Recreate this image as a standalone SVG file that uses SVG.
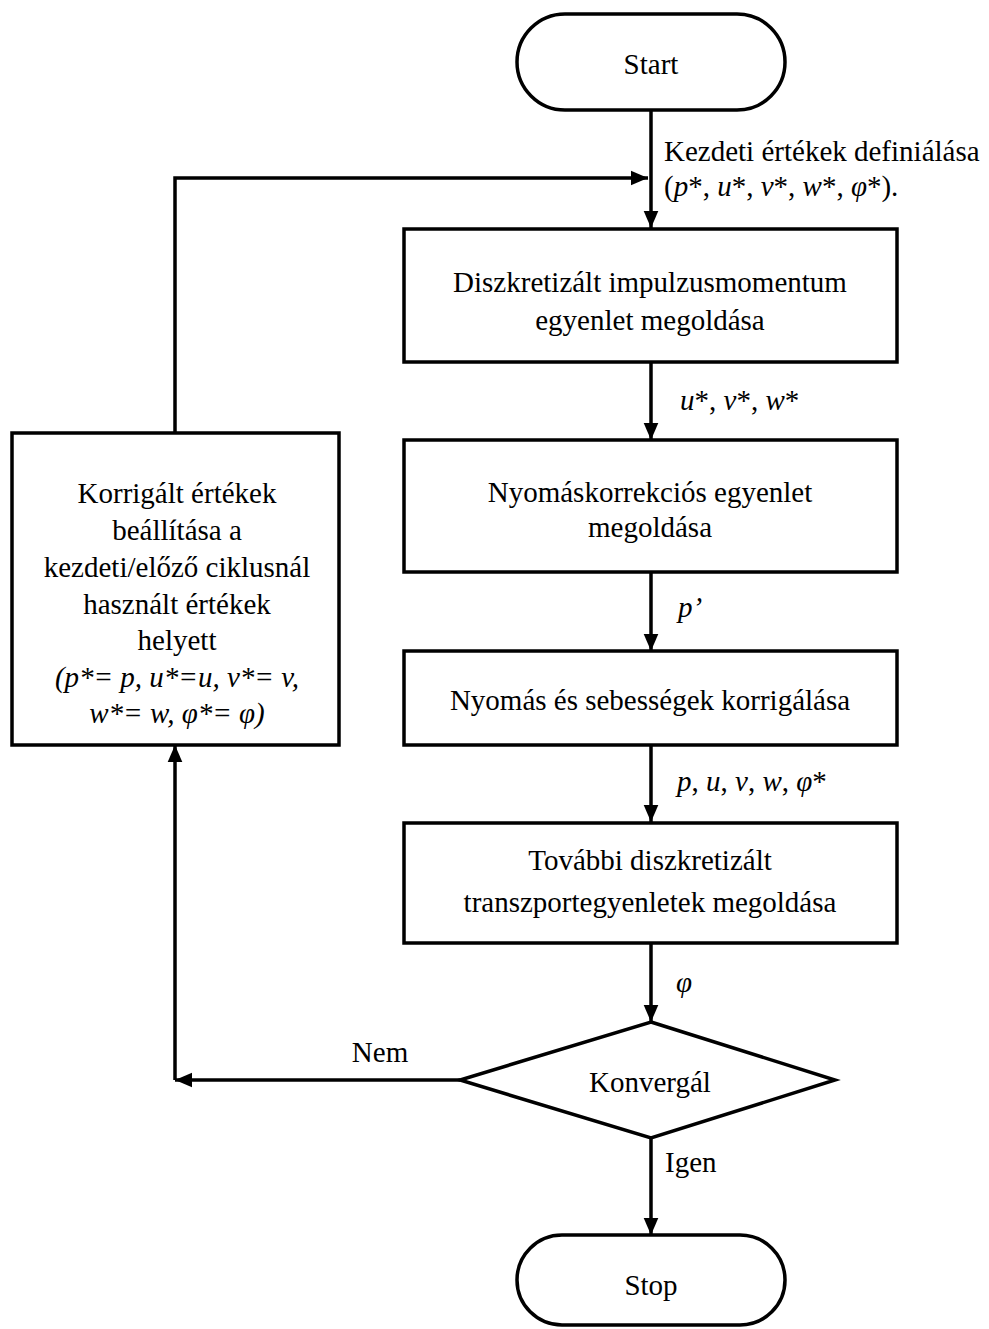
<svg xmlns="http://www.w3.org/2000/svg" width="989" height="1329" viewBox="0 0 989 1329">
<style>
.shape{fill:#fff;stroke:#000;stroke-width:3.5}
.line{fill:none;stroke:#000;stroke-width:3.5}
text{font-family:"Liberation Serif","Times New Roman",serif;font-size:29px;fill:#000}
.c{text-anchor:middle}
.i{font-style:italic}
</style>
<defs>
<marker id="ah" viewBox="0 0 10 10" refX="10" refY="5" markerWidth="17" markerHeight="17" markerUnits="userSpaceOnUse" orient="auto">
<path d="M0,0.7 L10,5 L0,9.3 Z" fill="#000"/>
</marker>
</defs>
<rect width="989" height="1329" fill="#fff"/>
<g id="connectors">
<line class="line" x1="651" y1="110" x2="651" y2="228" marker-end="url(#ah)"/>
<polyline class="line" points="175,433 175,178 648,178" marker-end="url(#ah)"/>
<line class="line" x1="651" y1="362" x2="651" y2="440" marker-end="url(#ah)"/>
<line class="line" x1="651" y1="572" x2="651" y2="651" marker-end="url(#ah)"/>
<line class="line" x1="651" y1="745" x2="651" y2="822" marker-end="url(#ah)"/>
<line class="line" x1="651" y1="943" x2="651" y2="1022" marker-end="url(#ah)"/>
<line class="line" x1="460" y1="1080" x2="175" y2="1080" marker-end="url(#ah)"/>
<line class="line" x1="175" y1="1080" x2="175" y2="745" marker-end="url(#ah)"/>
<line class="line" x1="651" y1="1138" x2="651" y2="1235" marker-end="url(#ah)"/>
<text x="664" y="161">Kezdeti értékek definiálása</text>
<text x="664" y="196">(<tspan class="i">p</tspan>*, <tspan class="i">u</tspan>*, <tspan class="i">v</tspan>*, <tspan class="i">w</tspan>*, <tspan class="i">φ</tspan>*).</text>
<text x="680" y="410"><tspan class="i">u</tspan>*, <tspan class="i">v</tspan>*, <tspan class="i">w</tspan>*</text>
<text x="678" y="617" class="i">p’</text>
<text x="677" y="791"><tspan class="i">p</tspan>, <tspan class="i">u</tspan>, <tspan class="i">v</tspan>, <tspan class="i">w</tspan>, <tspan class="i">φ</tspan>*</text>
<text x="676" y="992" class="i">φ</text>
<text x="380" y="1062" class="c">Nem</text>
<text x="665" y="1172">Igen</text>
</g>
<g id="start">
<rect class="shape" x="517" y="14" width="268" height="96" rx="48" ry="48"/>
<text x="651" y="74" class="c">Start</text>
</g>
<g id="box1">
<rect class="shape" x="404" y="229" width="493" height="133"/>
<text x="650" y="292" class="c">Diszkretizált impulzusmomentum</text>
<text x="650" y="330" class="c">egyenlet megoldása</text>
</g>
<g id="box2">
<rect class="shape" x="404" y="440" width="493" height="132"/>
<text x="650" y="502" class="c">Nyomáskorrekciós egyenlet</text>
<text x="650" y="537" class="c">megoldása</text>
</g>
<g id="box3">
<rect class="shape" x="404" y="651" width="493" height="94"/>
<text x="650" y="710" class="c">Nyomás és sebességek korrigálása</text>
</g>
<g id="box4">
<rect class="shape" x="404" y="823" width="493" height="120"/>
<text x="650" y="870" class="c">További diszkretizált</text>
<text x="650" y="912" class="c">transzportegyenletek megoldása</text>
</g>
<g id="decision">
<polygon class="shape" points="651,1022 835,1080 651,1138 460,1080"/>
<text x="650" y="1092" class="c">Konvergál</text>
</g>
<g id="stop">
<rect class="shape" x="517" y="1235" width="268" height="90" rx="45" ry="45"/>
<text x="651" y="1295" class="c">Stop</text>
</g>
<g id="leftbox">
<rect class="shape" x="12" y="433" width="327" height="312"/>
<text x="177" y="503" class="c">Korrigált értékek</text>
<text x="177" y="540" class="c">beállítása a</text>
<text x="177" y="577" class="c">kezdeti/előző ciklusnál</text>
<text x="177" y="614" class="c">használt értékek</text>
<text x="177" y="650" class="c">helyett</text>
<text x="177" y="687" class="c i">(p*= p, u*=u, v*= v,</text>
<text x="177" y="723" class="c i">w*= w, φ*= φ)</text>
</g>
</svg>
